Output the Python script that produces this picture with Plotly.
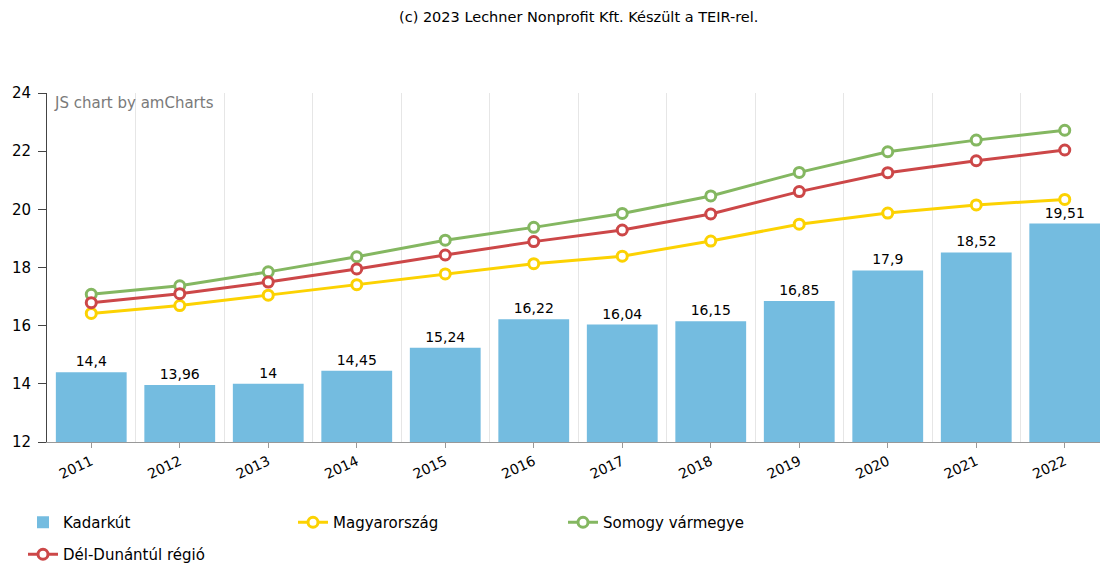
import plotly.graph_objects as go

years = [2011, 2012, 2013, 2014, 2015, 2016, 2017, 2018, 2019, 2020, 2021, 2022]
kadarkut = [14.4, 13.96, 14, 14.45, 15.24, 16.22, 16.04, 16.15, 16.85, 17.9, 18.52, 19.51]
magyarorszag = [16.42, 16.69, 17.05, 17.41, 17.78, 18.13, 18.39, 18.91, 19.49, 19.87, 20.15, 20.34]
somogy = [17.08, 17.37, 17.85, 18.37, 18.94, 19.38, 19.86, 20.46, 21.27, 21.98, 22.38, 22.72]
del_dunantul = [16.79, 17.10, 17.50, 17.95, 18.43, 18.89, 19.29, 19.84, 20.61, 21.26, 21.67, 22.04]

FONT = "DejaVu Sans"

fig = go.Figure()
fig.add_trace(go.Bar(
    x=years, y=kadarkut, name="Kadarkút", width=0.8, legend="legend",
    marker=dict(color="#74BCE0", line=dict(width=0)),
    text=[f"{v:g}".replace(".", ",") for v in kadarkut],
    textposition="outside", cliponaxis=False,
    textfont=dict(color="#000000", size=14, family=FONT),
))

def line(y, name, color, lg):
    return go.Scatter(
        x=years, y=y, name=name, mode="lines+markers", legend=lg,
        line=dict(color=color, width=3),
        marker=dict(symbol="circle", size=10, color="#FFFFFF",
                    line=dict(color=color, width=3)),
    )

fig.add_trace(line(magyarorszag, "Magyarország", "#FCD202", "legend"))
fig.add_trace(line(somogy, "Somogy vármegye", "#84B761", "legend"))
fig.add_trace(line(del_dunantul, "Dél-Dunántúl régió", "#CC4748", "legend2"))

W, H = 1100, 566
FIG_W = 1109                # plot area runs slightly past the window edge
ML, MT, MB = 47, 93, 124
PLOT_H = H - MT - MB
PLOT_W = FIG_W - ML

legend_common = dict(
    orientation="h", xref="container", yref="container",
    xanchor="left", yanchor="top",
    entrywidth=225, entrywidthmode="pixels",
    font=dict(size=15, family=FONT, color="#000000"),
    traceorder="normal", bgcolor="rgba(0,0,0,0)",
)

fig.update_layout(
    width=FIG_W, height=H,
    margin=dict(l=ML, r=0, t=MT, b=MB, autoexpand=False),
    paper_bgcolor="white", plot_bgcolor="white",
    font=dict(family=FONT, size=14, color="#000000"),
    showlegend=True,
    bargap=0.2,
    legend=dict(legend_common, x=23 / FIG_W, y=1 - 506 / H),
    legend2=dict(legend_common, x=23 / FIG_W, y=1 - 538 / H),
    annotations=[
        dict(text="(c) 2023 Lechner Nonprofit Kft. Készült a TEIR-rel.",
             xref="paper", yref="paper", x=(578.5 - ML) / PLOT_W,
             y=(H - MB - 17) / PLOT_H,
             xanchor="center", yanchor="middle", showarrow=False,
             font=dict(size=14.5, family=FONT, color="#000000")),
        dict(text="JS chart by amCharts",
             xref="paper", yref="paper", x=5 / PLOT_W,
             y=(H - MB - 103) / PLOT_H,
             xanchor="left", yanchor="middle", showarrow=False,
             font=dict(size=15, family=FONT, color="#7A7A7A")),
    ],
)

fig.update_xaxes(
    range=[2010.5, 2022.5], automargin=False,
    tickmode="array", tickvals=years, ticktext=[str(y) for y in years],
    tickangle=-25, ticks="outside", ticklen=5, tickcolor="#999999",
    showline=True, linecolor="#999999", linewidth=1,
    showgrid=False, zeroline=False,
    minor=dict(tickmode="linear", tick0=2010.5, dtick=1, showgrid=True,
               gridcolor="#E6E6E6", gridwidth=1, ticks=""),
    tickfont=dict(size=14, family=FONT, color="#000000"),
)
fig.update_yaxes(
    range=[12, 24], dtick=2, tick0=12, automargin=False,
    ticks="outside", ticklen=8, tickcolor="#444444",
    showline=True, linecolor="#444444", linewidth=1,
    showgrid=False, zeroline=False, ticklabelstandoff=4,
    tickfont=dict(size=15, family=FONT, color="#000000"),
)

fig.write_html(
    "out.html",
    config={"displayModeBar": False},
    post_script="document.body.style.margin='0';document.documentElement.style.overflow='hidden';document.body.style.overflow='hidden';",
)
